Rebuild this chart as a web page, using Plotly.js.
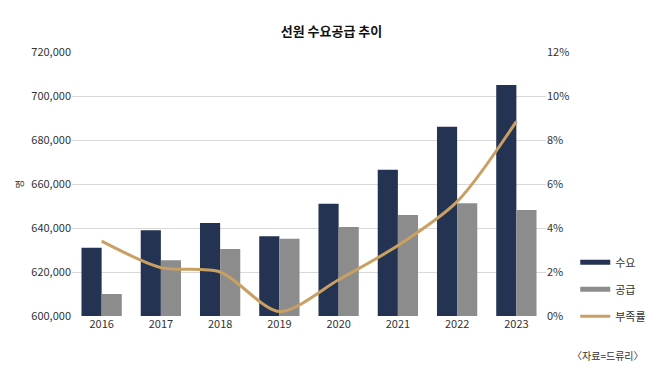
<!DOCTYPE html>
<html>
<head>
<meta charset="utf-8">
<script src="https://cdn.plot.ly/plotly-3.0.1.min.js"></script>
<style>html,body{margin:0;padding:0;background:#fff;}#chart{width:650px;height:367px;}</style>
</head>
<body>
<div id="chart"></div>
<script>
const years = ['2016','2017','2018','2019','2020','2021','2022','2023'];
const demand = [631000, 639000, 642300, 636200, 651000, 666500, 686000, 705000];
const supply = [610000, 625300, 630500, 635100, 640500, 645900, 651200, 648200];
const shortage = [3.4, 2.2, 2.0, 0.2, 1.65, 3.2, 5.2, 8.85];
const leftTicks = [600000, 620000, 640000, 660000, 680000, 700000, 720000];
const rightTicks = [0, 2, 4, 6, 8, 10, 12];

const FONT = '"Noto Sans CJK KR", "Noto Sans", sans-serif';
const NAVY = '#253352', GRAY = '#8c8c8c', GOLD = '#c9a063';

const traces = [
  {type:'bar', x:years, y:demand, name:'수요', marker:{color:NAVY}, showlegend:false, hoverinfo:'skip'},
  {type:'bar', x:years, y:supply, name:'공급', marker:{color:GRAY}, showlegend:false, hoverinfo:'skip'},
  {type:'scatter', mode:'lines', x:years, y:shortage, yaxis:'y2', name:'부족률',
   line:{color:GOLD, width:3, shape:'spline', smoothing:0.8}, showlegend:false, hoverinfo:'skip'},
  {type:'scatter', mode:'lines', x:[null], y:[null], name:'수요', line:{color:NAVY, width:5}, legendrank:1, legendgroup:'a'},
  {type:'scatter', mode:'lines', x:[null], y:[null], name:'공급', line:{color:GRAY, width:5}, legendrank:2, legendgroup:'b'},
  {type:'scatter', mode:'lines', x:[null], y:[null], yaxis:'y2', name:'부족률', line:{color:GOLD, width:3}, legendrank:3, legendgroup:'c'}
];

const layout = {
  width:650, height:367,
  margin:{l:72, r:104, t:52, b:51},
  paper_bgcolor:'#fff', plot_bgcolor:'#fff',
  font:{family:FONT, color:'#333', size:11},
  title:{text:'<b>선원 수요공급 추이</b>', x:0.51, xanchor:'center', y:0.915, yanchor:'middle', font:{size:13, color:'#111', family:FONT}},
  barmode:'group', bargap:0.32, bargroupgap:0,
  xaxis:{type:'category', showgrid:false, showline:false, ticks:'', tickfont:{size:11, color:'#333'}},
  yaxis:{range:[600000,720000], tickvals:leftTicks, ticktext:leftTicks.map(v=>v.toLocaleString('en-US')),
    showgrid:true, gridcolor:'#d9d9d9', gridwidth:1, zeroline:false, showline:false, ticks:'', ticklen:0,
    tickfont:{size:11, color:'#333'}, title:{text:'명', font:{size:9, color:'#333'}, standoff:6}},
  yaxis2:{range:[0,12], overlaying:'y', side:'right', tickvals:rightTicks, ticktext:rightTicks.map(v=>v+'%'),
    showgrid:false, zeroline:false, showline:false, ticks:'', tickfont:{size:11, color:'#333'}},
  legend:{xref:'container', yref:'container', x:0.885, xanchor:'left', y:0.325, yanchor:'top',
    font:{size:11, color:'#333'}, itemwidth:30, tracegroupgap:8, bgcolor:'rgba(0,0,0,0)'},
  annotations:[{text:'〈자료=드류리〉', xref:'paper', yref:'paper', x:1.21, y:-0.15, xanchor:'right', yanchor:'middle',
    showarrow:false, font:{size:10, color:'#333', family:FONT}}]
};

Plotly.newPlot('chart', traces, layout, {displayModeBar:false, staticPlot:true});
</script>
</body>
</html>
